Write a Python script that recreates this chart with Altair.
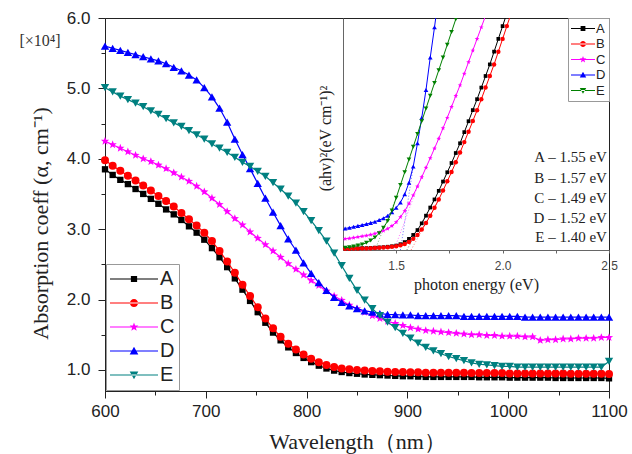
import math
import altair as alt
import pandas as pd

# ---------------- data ----------------
series = ["A", "B", "C", "D", "E"]
main_colors = ["#000000", "#ff0000", "#ff00ff", "#0000ff", "#008080"]
inset_colors = ["#000000", "#ff0000", "#ff00ff", "#0000ff", "#008000"]

# sampling grid of the main curves (nm)
wavelength = [round(600 + 500 * i / 66, 1) for i in range(67)]

abs_A = [3.85, 3.77, 3.70, 3.64, 3.57, 3.50, 3.43, 3.36, 3.28, 3.21,
         3.13, 3.04, 2.95, 2.85, 2.73, 2.60, 2.46, 2.30, 2.14, 1.98,
         1.82, 1.67, 1.53, 1.42, 1.32, 1.24, 1.17, 1.11, 1.06, 1.02,
         0.99, 0.97, 0.955, 0.945, 0.935, 0.93, 0.925, 0.92, 0.915, 0.91,
         0.91, 0.905, 0.90, 0.90, 0.90, 0.90, 0.90, 0.90, 0.90, 0.895,
         0.895, 0.895, 0.895, 0.89, 0.89, 0.89, 0.89, 0.89, 0.89, 0.885,
         0.885, 0.885, 0.885, 0.885, 0.885, 0.885, 0.88]
abs_B = [3.98, 3.90, 3.83, 3.76, 3.69, 3.62, 3.55, 3.47, 3.40, 3.32,
         3.23, 3.14, 3.05, 2.95, 2.83, 2.69, 2.54, 2.38, 2.21, 2.05,
         1.89, 1.73, 1.59, 1.47, 1.37, 1.29, 1.22, 1.16, 1.11, 1.07,
         1.04, 1.02, 1.01, 1.00, 0.99, 0.985, 0.98, 0.975, 0.97, 0.97,
         0.965, 0.965, 0.96, 0.96, 0.96, 0.96, 0.96, 0.96, 0.955, 0.955,
         0.955, 0.955, 0.955, 0.95, 0.95, 0.95, 0.95, 0.95, 0.95, 0.95,
         0.95, 0.945, 0.945, 0.945, 0.945, 0.945, 0.94]
abs_C = [4.25, 4.20, 4.15, 4.10, 4.05, 4.00, 3.96, 3.91, 3.86, 3.80,
         3.74, 3.68, 3.61, 3.53, 3.44, 3.35, 3.25, 3.15, 3.06, 2.96,
         2.87, 2.78, 2.69, 2.60, 2.51, 2.43, 2.35, 2.27, 2.20, 2.12,
         2.05, 1.99, 1.92, 1.87, 1.82, 1.77, 1.73, 1.69, 1.66, 1.63,
         1.60, 1.58, 1.56, 1.55, 1.54, 1.53, 1.52, 1.51, 1.50, 1.50,
         1.49, 1.49, 1.48, 1.48, 1.48, 1.47, 1.47, 1.42, 1.43, 1.43,
         1.44, 1.44, 1.45, 1.45, 1.45, 1.46, 1.46]
abs_D = [5.60, 5.57, 5.54, 5.51, 5.48, 5.45, 5.42, 5.39, 5.35, 5.30,
         5.25, 5.19, 5.12, 5.01, 4.88, 4.72, 4.52, 4.28, 4.06, 3.86,
         3.65, 3.44, 3.24, 3.05, 2.86, 2.70, 2.52, 2.37, 2.24, 2.13,
         2.03, 1.96, 1.91, 1.87, 1.84, 1.82, 1.80, 1.79, 1.785, 1.78,
         1.78, 1.77, 1.77, 1.77, 1.77, 1.77, 1.77, 1.76, 1.76, 1.76,
         1.76, 1.76, 1.76, 1.76, 1.76, 1.75, 1.75, 1.75, 1.75, 1.75,
         1.75, 1.75, 1.75, 1.75, 1.75, 1.75, 1.75]
abs_E = [5.01, 4.95, 4.89, 4.84, 4.79, 4.74, 4.68, 4.63, 4.57, 4.51,
         4.46, 4.40, 4.34, 4.28, 4.21, 4.15, 4.09, 4.02, 3.95, 3.89,
         3.82, 3.75, 3.66, 3.57, 3.47, 3.37, 3.25, 3.12, 2.98, 2.83,
         2.66, 2.48, 2.30, 2.13, 1.99, 1.87, 1.77, 1.68, 1.60, 1.52,
         1.45, 1.38, 1.32, 1.27, 1.23, 1.19, 1.16, 1.13, 1.10, 1.08,
         1.07, 1.06, 1.05, 1.05, 1.04, 1.04, 1.04, 1.04, 1.04, 1.04,
         1.04, 1.04, 1.04, 1.04, 1.04, 1.04, 1.12]
main_values = [abs_A, abs_B, abs_C, abs_D, abs_E]

# inset: Tauc plot
photon_energy = [round(1.26 + 0.02 * i, 2) for i in range(40)]
ahv_A = [0.6, 0.6, 0.7, 0.7, 0.8, 0.8, 0.9, 1.0, 1.1, 1.2,
         1.4, 1.6, 1.9, 2.5, 3.4, 4.8, 6.5, 8.6, 11.5, 14.8,
         18.3, 21.8, 25.5, 29.5, 33.5, 37.5, 41.8, 46, 50.8, 55.5,
         60.3, 65, 70, 75, 80, 85.5, 91, 96.5, 102]
ahv_B = [0.5, 0.5, 0.6, 0.6, 0.7, 0.7, 0.8, 0.9, 1.0, 1.1,
         1.2, 1.4, 1.6, 2.0, 2.6, 3.5, 4.8, 6.5, 8.8, 11.6,
         14.8, 18.2, 21.8, 25.6, 29.6, 33.6, 37.8, 42, 46.5, 51,
         55.6, 60.2, 65, 70, 75, 80, 85.5, 91, 96.5, 102]
ahv_C = [4.8, 5.0, 5.3, 5.6, 5.9, 6.2, 6.6, 7.1, 7.6, 8.3,
         9.2, 10.4, 12.0, 14.2, 16.8, 20.0, 23.6, 27.4, 31.4, 35.5,
         39.6, 43.8, 48, 52.5, 57, 61.7, 66.4, 71, 76, 81,
         86, 91, 96, 101]
ahv_D = [9.3, 9.6, 10.0, 10.4, 10.8, 11.2, 11.7, 12.2, 12.9, 13.7,
         14.8, 16.3, 18.2, 20.5, 24, 29, 36, 46, 57, 69,
         83, 96, 110]
ahv_E = [1.0, 1.2, 1.5, 1.9, 2.4, 3.1, 4.1, 5.4, 7.2, 9.6,
         12.5, 17.0, 22.5, 28, 33.5, 39, 44.5, 50, 55.5, 61,
         66.5, 72, 77.5, 83, 88.5, 94, 99.5, 105]
inset_values = [ahv_A, ahv_B, ahv_C, ahv_D, ahv_E]

band_gap = [1.55, 1.57, 1.49, 1.52, 1.40]
tangent_end_energy = [1.68, 1.70, 1.60, 1.58, 1.50]
tangent_end_ahv = [21.8, 21.8, 27.4, 36.0, 22.5]
gap_labels = ["A – 1.55 eV", "B – 1.57 eV", "C – 1.49 eV", "D – 1.52 eV", "E – 1.40 eV"]
gap_label_energy = [2.49, 2.49, 2.49, 2.49, 2.49]
gap_label_ahv = [39.9, 31.0, 22.4, 14.0, 5.4]
unit_note = ["[×10⁴]"]

# ---------------- tables ----------------
main_df = pd.DataFrame([
    {"series": s, "wavelength": w, "value": v}
    for s, vals in zip(series, main_values)
    for w, v in zip(wavelength, vals)
])
inset_df = pd.DataFrame([
    {"iseries": s, "energy": e, "ahv": v}
    for s, vals in zip(series, inset_values)
    for e, v in zip(photon_energy, vals)
])
tangent_df = pd.DataFrame(
    [{"iseries": s, "energy": g, "ahv": 0.0} for s, g in zip(series, band_gap)]
    + [{"iseries": s, "energy": e, "ahv": a}
       for s, e, a in zip(series, tangent_end_energy, tangent_end_ahv)]
)
annot_df = pd.DataFrame({"label": gap_labels, "energy": gap_label_energy, "ahv": gap_label_ahv})
legend_df = pd.DataFrame({"series": series})
ilegend_df = pd.DataFrame({"iseries": series})
note_df = pd.DataFrame({"note": unit_note})

# ---------------- styling helpers ----------------
SANS = "Liberation Sans"
SERIF = "Liberation Serif"


def star(r):
    pts = []
    for k in range(10):
        ang = math.radians(-90 + 36 * k)
        rad = r if k % 2 == 0 else r * 0.42
        pts.append(f"{rad * math.cos(ang):.3f},{rad * math.sin(ang):.3f}")
    return "M" + "L".join(pts) + "Z"


def legend_paths(a, b, c, d, t):
    # thin filled bar (the line) + filled marker
    bar = f"M-1,{-t}H1V{t}H-1Z"
    return [
        bar + f"M{-a},{-a}H{a}V{a}H{-a}Z",
        bar + f"M{-b},0A{b},{b} 0 1,0 {b},0A{b},{b} 0 1,0 {-b},0Z",
        bar + star(c),
        bar + f"M0,{-d}L{d},{0.8 * d}L{-d},{0.8 * d}Z",
        bar + f"M0,{d}L{d},{-0.8 * d}L{-d},{-0.8 * d}Z",
    ]


main_shapes = ["square", "circle", star(1), "triangle-up", "triangle-down"]
main_sizes = [40, 64, 75, 70, 70]
inset_sizes = [14, 20, 24, 22, 22]

# ---------------- main plot ----------------
W, H = 504, 373

main_x = alt.X(
    "wavelength:Q",
    scale=alt.Scale(domain=[600, 1100], nice=False, zero=False),
    axis=alt.Axis(
        values=[600, 650, 700, 750, 800, 850, 900, 950, 1000, 1050, 1100],
        labelExpr="datum.value % 100 === 0 ? datum.label : ''",
        format="d",
        tickSize={"condition": {"test": "datum.value % 100 === 0", "value": 7}, "value": 4},
        labelFont=SANS, labelFontSize=17, labelColor="#222", labelPadding=5,
        labelFlush=False, labelOverlap=False,
        tickColor="#222", domainColor="#222", grid=False,
        title="Wavelength（nm）", titleFont=SERIF, titleFontSize=22,
        titleFontWeight="normal", titleColor="#222",
        titleY=57, titleBaseline="alphabetic",
    ),
)
main_y = alt.Y(
    "value:Q",
    scale=alt.Scale(domain=[0.7, 6.0], nice=False, zero=False),
    axis=alt.Axis(
        values=[1.0, 1.5, 2.0, 2.5, 3.0, 3.5, 4.0, 4.5, 5.0, 5.5, 6.0],
        labelExpr="datum.value % 1 === 0 ? format(datum.value, '.1f') : ''",
        tickSize={"condition": {"test": "datum.value % 1 === 0", "value": 7}, "value": 4},
        labelFont=SANS, labelFontSize=17, labelColor="#222", labelPadding=8,
        labelFlush=False, labelOverlap=False,
        tickColor="#222", domainColor="#222", grid=False,
        title="Absorption coeff (α, cm⁻¹)", titleFont=SERIF, titleFontSize=22,
        titleFontWeight="normal", titleColor="#222",
        titleX=-53, titleY=205,
    ),
)

main_layers = []
for s, col, shp, sz in zip(series, main_colors, main_shapes, main_sizes):
    base = alt.Chart(main_df).transform_filter(alt.datum.series == s)
    main_layers.append(base.mark_line(color=col, strokeWidth=1.2).encode(x=main_x, y=main_y))
    main_layers.append(
        base.mark_point(filled=True, color=col, shape=shp, size=sz, opacity=1).encode(x=main_x, y=main_y)
    )

main_legend_def = alt.Legend(
    title=None, orient="bottom-left", direction="vertical", offset=1, padding=4,
    strokeColor="#999", fillColor="white",
    labelFont=SANS, labelFontSize=20, labelColor="#222", labelOffset=2,
    symbolSize=2304, symbolStrokeWidth=0, symbolOpacity=1,
    clipHeight=22, rowPadding=2,
)
main_legend = alt.Chart(legend_df).mark_point(filled=True, opacity=0, size=2304).encode(
    color=alt.Color("series:N", scale=alt.Scale(domain=series, range=main_colors), legend=main_legend_def),
    shape=alt.Shape("series:N",
                    scale=alt.Scale(domain=series, range=legend_paths(0.13, 0.17, 0.19, 0.18, 0.026)),
                    legend=main_legend_def),
)
main_layers.append(main_legend)

scale_note = alt.Chart(note_df).mark_text(
    font=SERIF, fontSize=16, fontWeight="normal", color="#333",
    align="center", baseline="middle"
).encode(x=alt.value(-65), y=alt.value(23), text="note:N")
main_layers.append(scale_note)

main_group = alt.layer(*main_layers)

# ---------------- inset ----------------
inset_x = alt.X(
    "energy:Q",
    scale=alt.Scale(domain=[1.25, 2.5], range=[238, 504], nice=False, zero=False),
    axis=alt.Axis(
        orient="bottom", offset=-141,
        values=[1.5, 1.75, 2.0, 2.25, 2.5],
        labelExpr="(datum.value * 100) % 50 === 0 ? format(datum.value, '.1f') : ''",
        tickSize=3, tickColor="#666", domainColor="#666", grid=False,
        labelFont=SANS, labelFontSize=12, labelColor="#444", labelPadding=7,
        labelFlush=False, labelOverlap=False,
        title="photon energy (eV)", titleFont=SERIF, titleFontSize=16,
        titleFontWeight="normal", titleColor="#222",
        titleY=39, titleBaseline="alphabetic",
    ),
)
inset_y = alt.Y(
    "ahv:Q",
    scale=alt.Scale(domain=[0, 100], range=[232, 0], nice=False, zero=False),
    axis=alt.Axis(
        orient="left", offset=-238, ticks=False, labels=False, grid=False,
        domainColor="#666",
        title="(ahv)²(eV cm⁻¹)²", titleFont=SERIF, titleFontSize=16,
        titleFontWeight="normal", titleColor="#222",
        titleX=-10, titleY=120,
    ),
)

inset_layers = []
for s, col in zip(series, inset_colors):
    inset_layers.append(
        alt.Chart(tangent_df).transform_filter(alt.datum.iseries == s)
        .mark_line(color=col, strokeWidth=1, strokeDash=[1, 2], opacity=0.55, clip=True)
        .encode(x=inset_x, y=inset_y)
    )
for s, col, shp, sz in zip(series, inset_colors, main_shapes, inset_sizes):
    base = alt.Chart(inset_df).transform_filter(alt.datum.iseries == s)
    inset_layers.append(base.mark_line(color=col, strokeWidth=1, clip=True).encode(x=inset_x, y=inset_y))
    inset_layers.append(
        base.mark_point(filled=True, color=col, shape=shp, size=sz, opacity=1, clip=True)
        .encode(x=inset_x, y=inset_y)
    )

inset_text = alt.Chart(annot_df).mark_text(
    font=SERIF, fontSize=15, color="#222", align="right", baseline="middle"
).encode(x=inset_x, y=inset_y, text="label:N")
inset_layers.append(inset_text)

inset_legend_def = alt.Legend(
    title=None, orient="top-right", direction="vertical", offset=0, padding=3,
    strokeColor="#999", fillColor="white",
    labelFont=SANS, labelFontSize=13, labelColor="#222", labelOffset=1,
    symbolSize=576, symbolStrokeWidth=0, symbolOpacity=1,
    clipHeight=15, rowPadding=0.5,
)
inset_legend = alt.Chart(ilegend_df).mark_point(filled=True, opacity=0, size=576).encode(
    color=alt.Color("iseries:N", scale=alt.Scale(domain=series, range=inset_colors), legend=inset_legend_def),
    shape=alt.Shape("iseries:N",
                    scale=alt.Scale(domain=series, range=legend_paths(0.2, 0.25, 0.3, 0.27, 0.045)),
                    legend=inset_legend_def),
)
inset_layers.append(inset_legend)

inset_group = alt.layer(*inset_layers)

chart = (
    alt.layer(main_group, inset_group)
    .resolve_scale(x="independent", y="independent", color="independent", shape="independent")
    .properties(
        width=W, height=H,
        padding={"left": 105, "top": 18, "right": 23, "bottom": 63},
        autosize=alt.AutoSizeParams(type="none"),
        background="white",
    )
    .configure_view(stroke="#222", strokeWidth=1)
)

chart.save("out.html", embed_options={"renderer": "svg", "actions": False})
